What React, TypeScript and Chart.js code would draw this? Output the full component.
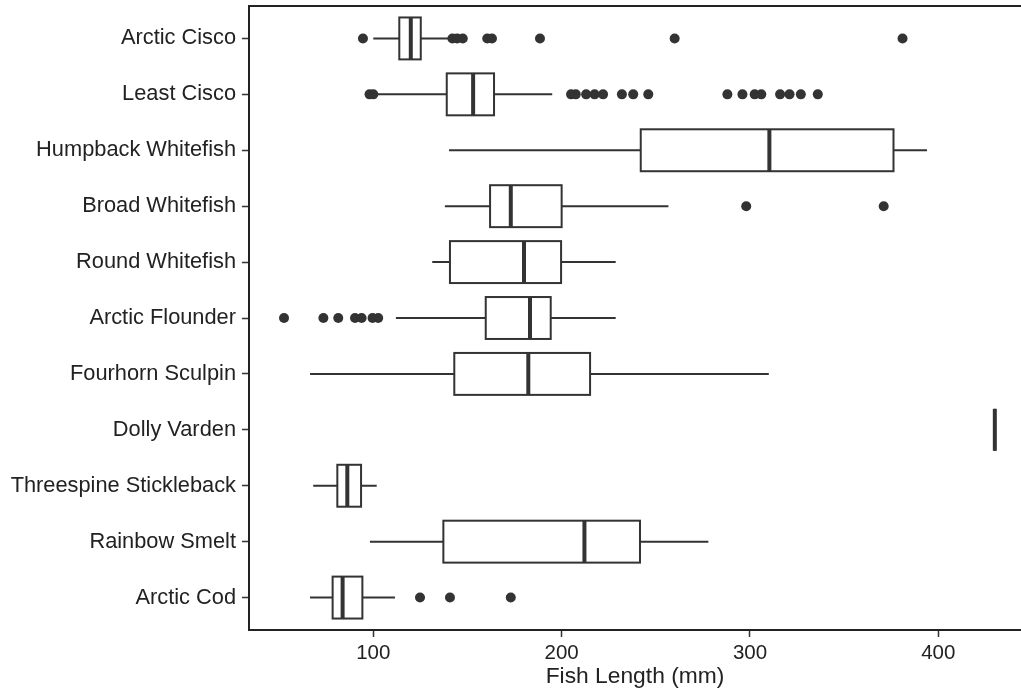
import React, { useEffect, useRef } from "react";
import { Chart, registerables } from "chart.js";

Chart.register(...registerables);

const categories = [
  "Arctic Cisco",
  "Least Cisco",
  "Humpback Whitefish",
  "Broad Whitefish",
  "Round Whitefish",
  "Arctic Flounder",
  "Fourhorn Sculpin",
  "Dolly Varden",
  "Threespine Stickleback",
  "Rainbow Smelt",
  "Arctic Cod",
];

const whiskerLow = [100, 102, 140.2, 138, 131.3, 112, 66.4, 430, 68.1, 98.2, 66.4];
const q1 = [113.8, 139, 242, 162, 140.7, 159.7, 143, 430, 80.9, 137.2, 78.4];
const median = [119.9, 153, 310.3, 173, 180, 183.2, 182.3, 430, 86.2, 212.1, 83.7];
const q3 = [125.2, 164.1, 376.2, 200, 199.7, 194.2, 215.1, 430, 93.5, 241.6, 94.2];
const whiskerHigh = [140, 195, 394, 256.7, 228.7, 228.7, 310, 430, 101.8, 277.9, 111.5];

const outliers: number[][] = [
  [94.5, 142, 144.5, 147.5, 160.5, 163, 188.5, 260, 381],
  [98, 100, 205, 207.5, 213, 217.5, 222, 232, 238, 246, 288, 296, 302.5, 306, 316, 321, 327, 336],
  [],
  [298, 371],
  [],
  [52.6, 73.5, 81.4, 90.3, 93.8, 99.6, 102.6],
  [],
  [],
  [],
  [],
  [124.8, 140.7, 173],
];

const xTicks = [100, 200, 300, 400];
const xMin = 34;
const xMax = 443.9;

const INK = "#333333";
const AXIS = "#222222";
const FONT = '"Liberation Sans", Arial, Helvetica, sans-serif';

const boxPlugin = {
  id: "boxPlot",
  beforeDatasetsDraw(chart: any) {
    const { ctx, chartArea } = chart;
    const x = chart.scales.x;
    const y = chart.scales.y;
    const unit = Math.abs(y.getPixelForValue(1) - y.getPixelForValue(0));
    const half = (unit * 0.75) / 2;
    ctx.save();
    ctx.beginPath();
    ctx.rect(chartArea.left, chartArea.top, chartArea.right - chartArea.left, chartArea.bottom - chartArea.top);
    ctx.clip();
    categories.forEach((_, i) => {
      const cy = y.getPixelForValue(i);
      const xl = x.getPixelForValue(whiskerLow[i]);
      const x1 = x.getPixelForValue(q1[i]);
      const xm = x.getPixelForValue(median[i]);
      const x3 = x.getPixelForValue(q3[i]);
      const xh = x.getPixelForValue(whiskerHigh[i]);
      ctx.strokeStyle = INK;
      ctx.lineWidth = 2;
      ctx.lineCap = "butt";
      ctx.beginPath();
      ctx.moveTo(xl, cy);
      ctx.lineTo(x1, cy);
      ctx.moveTo(x3, cy);
      ctx.lineTo(xh, cy);
      ctx.stroke();
      ctx.fillStyle = "#ffffff";
      ctx.fillRect(x1, cy - half, x3 - x1, 2 * half);
      ctx.strokeRect(x1, cy - half, x3 - x1, 2 * half);
      ctx.lineWidth = 4;
      ctx.beginPath();
      ctx.moveTo(xm, cy - half);
      ctx.lineTo(xm, cy + half);
      ctx.stroke();
    });
    ctx.restore();
  },
  afterDraw(chart: any) {
    const { ctx, chartArea } = chart;
    ctx.save();
    ctx.strokeStyle = AXIS;
    ctx.lineWidth = 2;
    ctx.beginPath();
    ctx.moveTo(chartArea.left - 1, chartArea.top);
    ctx.lineTo(chartArea.right, chartArea.top);
    ctx.stroke();
    ctx.restore();
  },
};

export default function App() {
  const ref = useRef<HTMLCanvasElement | null>(null);

  useEffect(() => {
    if (!ref.current) return;
    const points = outliers.flatMap((vals, i) => vals.map((v) => ({ x: v, y: i })));
    const chart = new Chart(ref.current, {
      type: "scatter",
      data: {
        datasets: [
          {
            data: points,
            pointRadius: 5,
            pointHoverRadius: 5,
            pointBackgroundColor: INK,
            pointBorderWidth: 0,
            showLine: false,
          } as any,
        ],
      },
      options: {
        animation: false,
        responsive: false,
        events: [],
        layout: { autoPadding: false, padding: { top: 6, right: 0, left: 0, bottom: 0 } },
        plugins: {
          legend: { display: false },
          tooltip: { enabled: false },
        },
        scales: {
          x: {
            type: "linear",
            position: "bottom",
            min: xMin,
            max: xMax,
            afterBuildTicks: (s: any) => {
              s.ticks = xTicks.map((v) => ({ value: v }));
            },
            afterFit: (s: any) => {
              s.height = 70;
              s.paddingLeft = 0;
              s.paddingRight = 0;
            },
            grid: {
              drawOnChartArea: false,
              drawTicks: true,
              tickLength: 7,
              tickWidth: 1.5,
              tickColor: INK,
            },
            border: { display: true, color: AXIS, width: 2 },
            ticks: {
              color: AXIS,
              font: { family: FONT, size: 20.5 },
              padding: 4,
              maxRotation: 0,
              callback: (v: any) => String(v),
            },
            title: {
              display: true,
              text: "Fish Length (mm)",
              color: AXIS,
              font: { family: FONT, size: 22.8 },
              padding: { top: 0, bottom: 10 },
            },
          },
          y: {
            type: "linear",
            reverse: true,
            min: -0.58,
            max: 10.58,
            afterBuildTicks: (s: any) => {
              s.ticks = categories.map((_, i) => ({ value: i }));
            },
            afterFit: (s: any) => {
              s.width = 249;
              s.paddingTop = 0;
              s.paddingBottom = 0;
            },
            grid: {
              drawOnChartArea: false,
              drawTicks: true,
              tickLength: 7,
              tickWidth: 1.5,
              tickColor: INK,
            },
            border: { display: true, color: AXIS, width: 2 },
            ticks: {
              color: AXIS,
              font: { family: FONT, size: 21.8 },
              padding: 6,
              callback: (v: any) => categories[Number(v)] ?? "",
            },
          },
        },
      },
      plugins: [boxPlugin],
    });
    return () => chart.destroy();
  }, []);

  return (
    <div style={{ position: "absolute", left: 0, top: 0, width: 1021, height: 700, background: "#ffffff" }}>
      <canvas ref={ref} width={1021} height={700} style={{ display: "block", width: 1021, height: 700 }} />
    </div>
  );
}
